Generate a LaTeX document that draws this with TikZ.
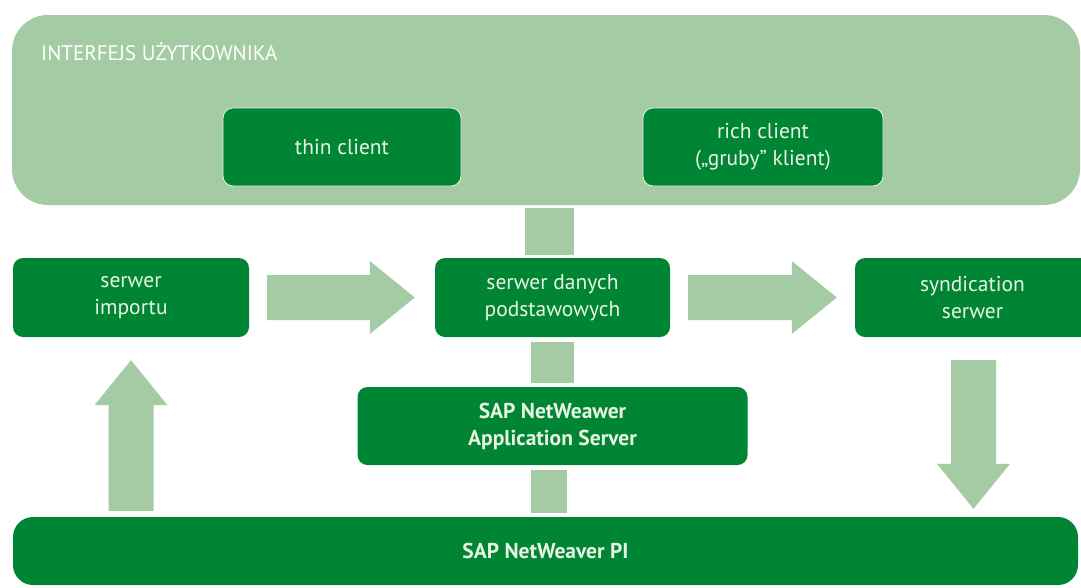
\documentclass[tikz,border=0pt]{standalone}
\usepackage{fontspec}
\setmainfont{PT Sans}
\usetikzlibrary{calc}

\definecolor{sapdark}{RGB}{0,133,52}
\definecolor{saplight}{RGB}{164,203,164}
\definecolor{boxtext}{RGB}{232,243,226}

% fat arrow from tail #1 to tip #2
\newcommand{\fatarrow}[2]{%
  \coordinate (hb) at ($(#2)!45pt!(#1)$);
  \fill[saplight] ($(#1)!22.5pt!90:(#2)$) -- ($(hb)!22.5pt!-90:(#1)$) -- ($(hb)!36.5pt!-90:(#1)$) -- (#2)
    -- ($(hb)!36.5pt!90:(#1)$) -- ($(hb)!22.5pt!90:(#1)$) -- ($(#1)!22.5pt!-90:(#2)$) -- cycle;}

\begin{document}
\begin{tikzpicture}[x=1pt,y=-1pt,
  box/.style={fill=sapdark, text=boxtext, rounded corners=10pt, align=center, inner sep=0pt,
    minimum width=236pt, minimum height=79pt, font=\fontsize{21.5}{27}\selectfont},
  clientbox/.style={box, draw=boxtext, line width=0.8pt, minimum width=238pt, minimum height=78pt}]
\useasboundingbox (0,0) rectangle (1081,587);

% User interface
\node[fill=saplight, rounded corners=36pt, minimum width=1068pt, minimum height=190pt, inner sep=0pt] (ui) at (546,110) {};
\node[anchor=base west, text=white, inner sep=0pt, font=\fontsize{21}{24}\selectfont] (uilabel) at (41,60) {INTERFEJS UŻYTKOWNIKA};
\node[clientbox] (thin) at (342,147) {thin client};
\node[clientbox, minimum width=240pt] (rich) at (763,147) {rich client\\(„gruby” klient)};

% Servers
\node[box] (imp) at (131,297.5) {serwer\\importu};
\node[box, minimum width=235pt] (mdm) at (552.5,297.5) {serwer danych\\podstawowych};
\node[box, minimum width=235pt] (syn) at (972.5,297.5) {syndication\\serwer};
\node[box, minimum width=390pt, minimum height=78pt, font=\fontsize{21.5}{27}\selectfont\bfseries] (as) at (552.5,426) {SAP NetWeawer\\Application Server};
\node[box, rounded corners=20pt, minimum width=1065pt, minimum height=68pt, font=\fontsize{21.5}{27}\selectfont\bfseries] (pi) at (545.5,551) {SAP NetWeaver PI};

% Vertical bar
\fill[saplight] ($(ui.south)+(-21.5,3)$) rectangle ($(mdm.north)+(21.5,-3)$);
\fill[saplight] ($(mdm.south)+(-21.5,5)$) rectangle ($(as.north)+(21.5,-4)$);
\fill[saplight] ($(as.south)+(-21.5,5)$) rectangle ($(pi.north)+(21.5,-4)$);

% Arrows
\coordinate (a1) at ($(imp.east)+(18,0)$);
\coordinate (a2) at ($(mdm.west)+(-20,0)$);
\fatarrow{a1}{a2}
\coordinate (b1) at ($(mdm.east)+(18,0)$);
\coordinate (b2) at ($(syn.west)+(-18,0)$);
\fatarrow{b1}{b2}
\coordinate (u1) at ($(imp.south |- pi.north)+(0,-6)$);
\coordinate (u2) at ($(imp.south)+(0,23)$);
\fatarrow{u1}{u2}
\coordinate (d1) at ($(syn.south)+(1,23)$);
\coordinate (d2) at ($(syn.south |- pi.north)+(1,-8)$);
\fatarrow{d1}{d2}

\end{tikzpicture}
\end{document}
